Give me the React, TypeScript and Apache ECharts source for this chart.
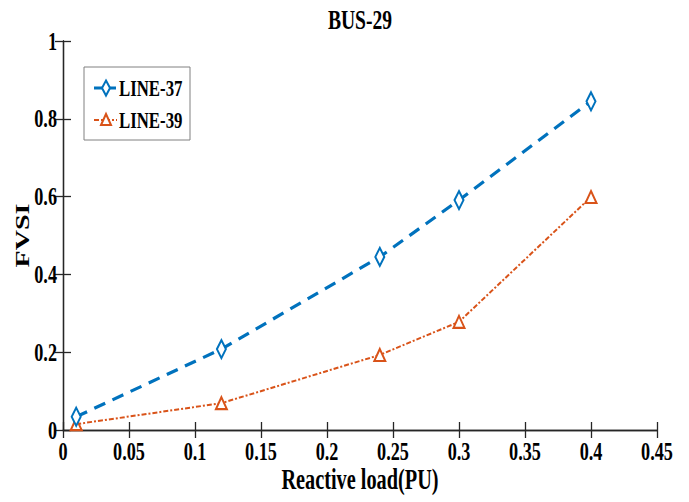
import React, { useEffect, useRef } from "react";
import * as echarts from "echarts";

const xValues = [0.01, 0.12, 0.24, 0.3, 0.4];
const line37 = [0.034, 0.208, 0.445, 0.591, 0.845];
const line39 = [0.015, 0.069, 0.193, 0.278, 0.599];
const seriesNames = ["LINE-37", "LINE-39"];
const xTickValues = [0, 0.05, 0.1, 0.15, 0.2, 0.25, 0.3, 0.35, 0.4, 0.45];
const xTickLabels = ["0", "0.05", "0.1", "0.15", "0.2", "0.25", "0.3", "0.35", "0.4", "0.45"];
const yTickValues = [0, 0.2, 0.4, 0.6, 0.8, 1];
const yTickLabels = ["0", "0.2", "0.4", "0.6", "0.8", "1"];
const titleText = "BUS-29";
const xName = "Reactive load(PU)";
const yName = "FVSI";

const FONT = "'Liberation Serif', 'Times New Roman', serif";
const BLUE = "#0072BD";
const ORANGE = "#D95319";
const SQ = 0.7; // horizontal condensation of the reference text

function txt(text: string, x: number, y: number, size: number, align: string, extra: any = {}) {
  return {
    type: "text",
    x,
    y,
    scaleX: SQ,
    z: 10,
    style: {
      text,
      fontFamily: FONT,
      fontWeight: "bold",
      fontSize: size,
      fill: "#000",
      align,
      verticalAlign: "middle",
    },
    ...extra,
  };
}

export default function App() {
  const ref = useRef<HTMLDivElement>(null);
  useEffect(() => {
    if (!ref.current) return;
    const chart = echarts.init(ref.current, undefined, { renderer: "svg" });
    const axisLine = { show: true, lineStyle: { color: "#262626", width: 1.3 } };
    const tick = { show: true, inside: true, length: 8, lineStyle: { color: "#262626", width: 1.3 } };
    chart.setOption({
      animation: false,
      backgroundColor: "#fff",
      grid: { left: 63, right: 32, top: 41, bottom: 72, containLabel: false },
      xAxis: [
        {
          type: "value", min: 0, max: 0.45, interval: 0.05,
          axisLine, axisTick: tick, axisLabel: { show: false }, splitLine: { show: false },
        },
        {
          type: "value", position: "top", min: 0, max: 0.45, interval: 0.05,
          axisLine, axisTick: tick, axisLabel: { show: false }, splitLine: { show: false },
        },
      ],
      yAxis: [
        {
          type: "value", min: 0, max: 1, interval: 0.2,
          axisLine, axisTick: tick, axisLabel: { show: false }, splitLine: { show: false },
        },
        {
          type: "value", position: "right", min: 0, max: 1, interval: 0.2,
          axisLine, axisTick: tick, axisLabel: { show: false }, splitLine: { show: false },
        },
      ],
      series: [
        {
          name: seriesNames[0],
          type: "line",
          data: xValues.map((x, i) => [x, line37[i]]),
          symbol: "diamond",
          symbolSize: [9, 18],
          showSymbol: true,
          lineStyle: { color: BLUE, width: 3.2, type: [12, 8] },
          itemStyle: { color: "#fff", borderColor: BLUE, borderWidth: 2.2 },
          color: BLUE,
          z: 3,
        },
        {
          name: seriesNames[1],
          type: "line",
          data: xValues.map((x, i) => [x, line39[i]]),
          symbol: "triangle",
          symbolSize: [11, 12],
          showSymbol: true,
          lineStyle: { color: ORANGE, width: 2, type: [5, 2, 2, 2] },
          itemStyle: { color: "#fff", borderColor: ORANGE, borderWidth: 2 },
          color: ORANGE,
          z: 2,
        },
      ],
    });

    const xp = (v: number) => chart.convertToPixel({ xAxisIndex: 0 }, v) as number;
    const yp = (v: number) => chart.convertToPixel({ yAxisIndex: 0 }, v) as number;
    const gLeft = xp(0);
    const gRight = xp(0.45);
    const gBottom = yp(0);
    const gTop = yp(1);

    const graphics: any[] = [];
    xTickValues.forEach((v, i) => graphics.push(txt(xTickLabels[i], xp(v), gBottom + 21, 26, "center")));
    yTickValues.forEach((v, i) => graphics.push(txt(yTickLabels[i], gLeft - 6, yp(v), 26, "right")));
    graphics.push(txt(titleText, (gLeft + gRight) / 2, gTop - 22, 28, "center"));
    graphics.push(txt(xName, (gLeft + gRight) / 2, gBottom + 49, 29, "center"));
    graphics.push({
      type: "text",
      x: 22,
      y: (gTop + gBottom) / 2,
      rotation: Math.PI / 2,
      scaleY: SQ,
      z: 10,
      style: { text: yName, fontFamily: FONT, fontWeight: "bold", fontSize: 28, fill: "#000", align: "center", verticalAlign: "middle" },
    });

    // legend
    const lx = 84, ly = 67, lw = 106, lh = 73;
    const r1 = ly + 21, r2 = ly + 53;
    graphics.push({
      type: "rect", z: 20,
      shape: { x: lx, y: ly, width: lw, height: lh },
      style: { fill: "#fff", stroke: "#808080", lineWidth: 1 },
    });
    graphics.push({
      type: "line", z: 21,
      shape: { x1: lx + 10, y1: r1, x2: lx + 33, y2: r1 },
      style: { stroke: BLUE, lineWidth: 3, lineDash: [8, 6] },
    });
    graphics.push({
      type: "polygon", z: 22,
      shape: { points: [[lx + 22, r1 - 7.5], [lx + 26, r1], [lx + 22, r1 + 7.5], [lx + 18, r1]] },
      style: { fill: "#fff", stroke: BLUE, lineWidth: 2 },
    });
    graphics.push({
      type: "line", z: 21,
      shape: { x1: lx + 10, y1: r2, x2: lx + 33, y2: r2 },
      style: { stroke: ORANGE, lineWidth: 2, lineDash: [5, 2, 2, 2] },
    });
    graphics.push({
      type: "polygon", z: 22,
      shape: { points: [[lx + 22, r2 - 6], [lx + 27, r2 + 5], [lx + 17, r2 + 5]] },
      style: { fill: "#fff", stroke: ORANGE, lineWidth: 2 },
    });
    graphics.push(txt(seriesNames[0], lx + 35, r1, 24, "left", { z: 23 }));
    graphics.push(txt(seriesNames[1], lx + 35, r2, 24, "left", { z: 23 }));

    chart.setOption({ graphic: graphics });
    return () => chart.dispose();
  }, []);
  return <div ref={ref} style={{ width: 689, height: 502, position: "absolute", left: 0, top: 0 }} />;
}
